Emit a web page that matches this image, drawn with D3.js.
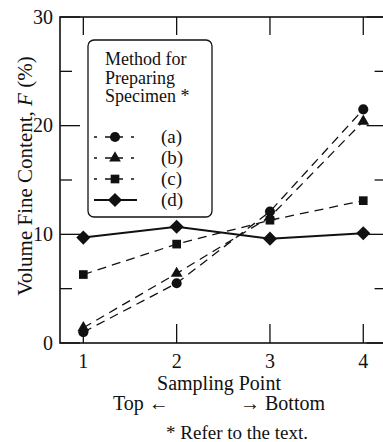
<!DOCTYPE html>
<html>
<head>
<meta charset="utf-8">
<script src="https://cdn.jsdelivr.net/npm/d3@7"></script>
<style>
  html, body { margin: 0; padding: 0; background: #fff; }
</style>
</head>
<body>
<svg id="chart" width="383" height="442" font-family="Liberation Serif, Times New Roman, serif"></svg>
<script>
// Sampling points along the specimen (top → bottom)
const samplingPoints = [1, 2, 3, 4];

// Volume fine content F (%) for each specimen preparation method
const methodA = [1.0, 5.5, 12.1, 21.5];
const methodB = [1.4, 6.4, 11.6, 20.4];
const methodC = [6.3, 9.1, 11.3, 13.1];
const methodD = [9.7, 10.7, 9.6, 10.1];

const seriesNames = ["(a)", "(b)", "(c)", "(d)"];
const seriesMarkers = ["circle", "triangle", "square", "diamond"];

const yMajorTicks = [0, 10, 20, 30];
const yMinorTicks = [5, 15, 25];

const series = [methodA, methodB, methodC, methodD].map((vals, i) => ({
  name: seriesNames[i],
  marker: seriesMarkers[i],
  dashed: i < 3,
  points: samplingPoints.map((p, j) => ({ x: p, y: vals[j] }))
}));

const svg = d3.select("#chart");
const ink = "#111";

const x = d3.scaleLinear().domain([0.75, 4.25]).range([60, 386.6]);
const y = d3.scaleLinear().domain([0, 30]).range([343, 17]);

// frame
const [x0, x1] = x.range();
const [yb, yt] = y.range();
svg.append("rect")
  .attr("x", x0).attr("y", yt)
  .attr("width", x1 - x0).attr("height", yb - yt)
  .attr("fill", "none").attr("stroke", ink).attr("stroke-width", 1.6);

// inward ticks on all four sides
const g = svg.append("g").attr("stroke", ink).attr("stroke-width", 1.3);
samplingPoints.forEach(p => {
  g.append("line").attr("x1", x(p)).attr("x2", x(p)).attr("y1", yb).attr("y2", yb - 19);
  g.append("line").attr("x1", x(p)).attr("x2", x(p)).attr("y1", yt).attr("y2", yt + 18);
});
yMajorTicks.concat(yMinorTicks).forEach(v => {
  const len = yMajorTicks.includes(v) ? 20 : 12;
  g.append("line").attr("x1", x0).attr("x2", x0 + len).attr("y1", y(v)).attr("y2", y(v));
  g.append("line").attr("x1", x1).attr("x2", x1 - len).attr("y1", y(v)).attr("y2", y(v));
});

// tick labels
svg.append("g").selectAll("text").data(yMajorTicks).join("text")
  .attr("x", x0 - 7).attr("y", d => y(d)).attr("dy", "0.34em")
  .attr("text-anchor", "end").attr("font-size", 20).attr("fill", ink).text(d => d);
svg.append("g").selectAll("text").data(samplingPoints).join("text")
  .attr("x", d => x(d)).attr("y", 368)
  .attr("text-anchor", "middle").attr("font-size", 20).attr("fill", ink).text(d => d);

// axis titles
const yl = svg.append("text")
  .attr("transform", "translate(32,176) rotate(-90)")
  .attr("text-anchor", "middle").attr("font-size", 21).attr("fill", ink);
yl.append("tspan").text("Volume Fine Content, ");
yl.append("tspan").attr("font-style", "italic").text("F");
yl.append("tspan").text(" (%)");

svg.append("text").attr("x", 219).attr("y", 390).attr("text-anchor", "middle")
  .attr("font-size", 20).attr("fill", ink).text("Sampling Point");
svg.append("text").attr("x", 113).attr("y", 410).attr("font-size", 20)
  .attr("fill", ink).text("Top \u2190");
svg.append("text").attr("x", 325).attr("y", 410).attr("text-anchor", "end")
  .attr("font-size", 20).attr("fill", ink).text("\u2192 Bottom");
svg.append("text").attr("x", 237).attr("y", 439).attr("text-anchor", "middle")
  .attr("font-size", 19).attr("fill", ink).text("* Refer to the text.");

// marker shapes
const symbolFor = {
  circle: d3.symbol(d3.symbolCircle, 80),
  triangle: d3.symbol(d3.symbolTriangle, 60),
  square: d3.symbol(d3.symbolSquare, 75),
  diamond: d3.symbol(d3.symbolSquare, 100)
};
function drawMarker(sel, kind, cx, cy) {
  const rot = kind === "diamond" ? " rotate(45)" : "";
  sel.append("path")
    .attr("d", symbolFor[kind]())
    .attr("transform", `translate(${cx},${cy})${rot}`)
    .attr("fill", ink);
}

// series lines and markers
const line = d3.line().x(d => x(d.x)).y(d => y(d.y));
const plot = svg.append("g");
series.forEach(s => {
  plot.append("path")
    .datum(s.points)
    .attr("d", line)
    .attr("fill", "none")
    .attr("stroke", ink)
    .attr("stroke-width", s.dashed ? 1.3 : 2)
    .attr("stroke-dasharray", s.dashed ? "9,6" : null);
});
series.forEach(s => {
  s.points.forEach(p => drawMarker(plot, s.marker, x(p.x), y(p.y)));
});

// legend
const lg = svg.append("g");
lg.append("rect")
  .attr("x", 88).attr("y", 40).attr("width", 124).attr("height", 177)
  .attr("rx", 6).attr("ry", 6)
  .attr("fill", "#fff").attr("stroke", ink).attr("stroke-width", 1.3);
["Method for", "Preparing", "Specimen *"].forEach((t, i) => {
  lg.append("text").attr("x", 105).attr("y", 65 + i * 18.5)
    .attr("font-size", 18).attr("fill", ink).text(t);
});
series.forEach((s, i) => {
  const ry = 137 + i * 21;
  lg.append("line")
    .attr("x1", 94).attr("x2", 137).attr("y1", ry).attr("y2", ry)
    .attr("stroke", ink).attr("stroke-width", s.dashed ? 1.3 : 2)
    .attr("stroke-dasharray", s.dashed ? "3,8,18,8" : null);
  drawMarker(lg, s.marker, 115, ry);
  lg.append("text").attr("x", 161).attr("y", ry).attr("dy", "0.34em")
    .attr("font-size", 19).attr("fill", ink).text(s.name);
});
</script>
</body>
</html>
